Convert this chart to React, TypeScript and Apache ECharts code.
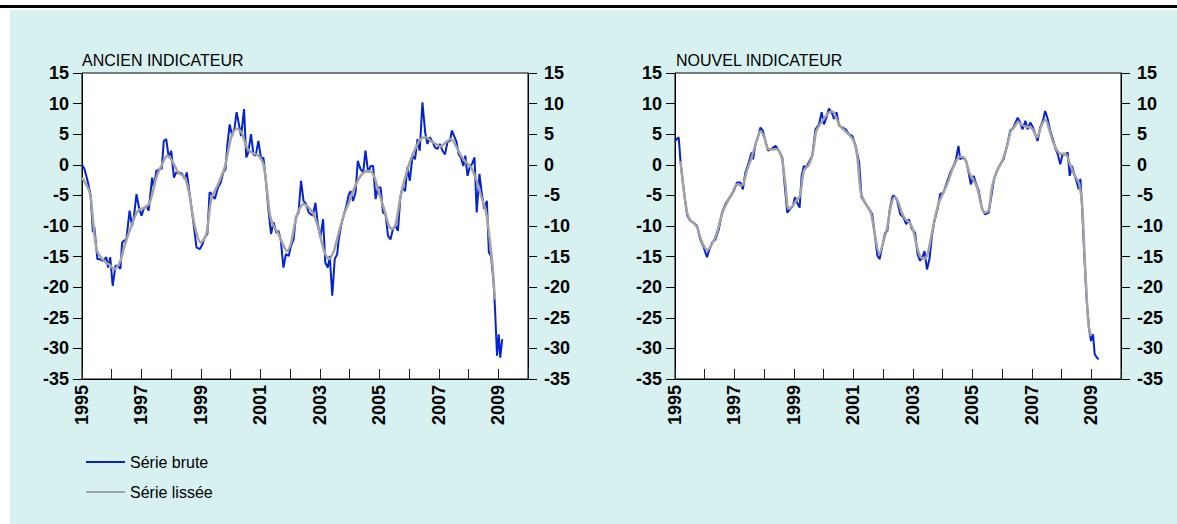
import React, { useEffect, useRef } from 'react';
import * as echarts from 'echarts';

// x = months since January 1995, y = indicator value
const ancienBrute: [number, number][] = [
  [0,0],[1,-0.7],[2.4,-2.9],[3.5,-5],[4.4,-11],[5,-10.2],[6.2,-15.4],[7,-15.4],[8.5,-15.7],[9.8,-15.1],[10.5,-16.8],[11.4,-15.1],[12.4,-19.8],[13.5,-16.5],[14.5,-16.5],[15.5,-17],[16.2,-12.7],[17,-12.4],[17.9,-12.2],[19.2,-7.5],[20.2,-10],[21,-8.3],[22,-4.8],[23,-7],[24,-8.3],[24.9,-7.2],[26,-6.7],[26.9,-7.5],[28.3,-2.1],[29,-3.7],[30,-1],[31.4,-0.7],[32.2,-0.6],[33,3.9],[34,4.2],[35,1.2],[36,2.3],[37.1,-2.1],[38,-1.25],[39.4,-1.3],[40.4,-1.5],[41.5,-2.3],[42.3,-1.25],[43,-3.4],[44.8,-8.9],[46.2,-13.5],[47.5,-13.8],[48.6,-13],[49.5,-11.9],[50.6,-11.3],[51.5,-4.5],[52.5,-4.8],[53.6,-5.6],[54.9,-3.7],[56,-2.9],[57,-1.25],[57.9,-0.7],[58.7,3.4],[59.6,6.6],[60.6,4.7],[61.6,6.1],[62.4,8.6],[63.2,6.9],[64.2,4.7],[65.4,9.1],[66.3,1.2],[67.1,2],[68.2,5],[69.2,1.7],[70.1,1.5],[71.2,3.9],[72.3,0.9],[73.2,1.2],[74.3,-2.9],[75.2,-7.2],[76.3,-11.3],[77.3,-9.4],[78.4,-11.1],[79.3,-10.8],[80.2,-12.2],[81.3,-16.8],[82.3,-14.6],[83.4,-14.9],[84.4,-13.2],[85.4,-12.2],[86.3,-8.6],[87.4,-7.8],[88.4,-2.6],[89.4,-5.9],[90.4,-6.4],[91.5,-7.8],[92.4,-8.1],[93.2,-8.3],[94.2,-6.2],[95.1,-9.4],[96.2,-11.9],[97.3,-8.9],[98.2,-16],[99.2,-16.8],[100,-14.9],[101,-21.4],[102,-15.4],[103,-14.6],[103.6,-12.2],[104.7,-9.7],[105.6,-8.3],[106.7,-6.7],[107.7,-4.8],[108.5,-4.3],[109.4,-5.9],[110.4,-4.5],[111.3,0.65],[112.4,-0.7],[113.5,-1.25],[114.4,2.3],[115.5,-1.25],[116.5,-0.2],[117.5,-0.2],[118.5,-5.6],[119.4,-3.7],[120.5,-3.7],[121.5,-7.8],[122.5,-8.1],[123.5,-11.6],[124.5,-12.2],[125.5,-10.5],[126.6,-10],[127.5,-10.8],[128.5,-5.3],[129.3,-3.7],[130.4,-4.3],[131.3,-0.4],[132.3,-2.6],[133.4,1.5],[134.4,0.9],[135.4,4.2],[136.3,2.3],[137.4,10.2],[138.5,5.3],[139.4,3.4],[140.4,4.5],[141.5,3.7],[142.5,2.8],[143.5,2.6],[144.4,3.4],[145.5,2.3],[146.5,1.7],[147.5,3.7],[148.5,3.9],[149.3,5.6],[150.2,4.7],[151.2,3.7],[152,1.7],[152.9,1.2],[153.9,-0.2],[154.7,1.5],[155.6,-1.8],[156.6,-0.2],[157.4,0.1],[158.4,1.2],[159.3,-7.8],[160.4,-1.5],[161.3,-4.5],[162.3,-7.2],[163.4,-5.9],[164.2,-14.3],[165.1,-14.9],[166.1,-19.2],[166.7,-23.6],[167.5,-31.2],[168.2,-27.7],[168.8,-31.5],[169.6,-28.5]
];

const ancienLisse: [number, number][] = [
  [0,-2.1],[3.1,-4.5],[4.4,-8.9],[5.9,-13.9],[8,-15.3],[9.8,-16],[11.3,-16.4],[12.9,-17.1],[15.2,-16],[17.2,-13.2],[19.9,-10],[22.6,-7.5],[25.3,-7],[27.3,-6.2],[30,-2.1],[32,-0.2],[34.5,1.5],[36.7,0.4],[38.8,-1.25],[41.5,-2.1],[43.4,-5],[45.5,-10],[47.9,-12.7],[50.2,-11.3],[52.2,-5.6],[54.9,-3.2],[57.6,-0.4],[60.3,4.6],[62.4,5.9],[64.4,5.3],[66.5,2.8],[68.5,2],[71.2,1.5],[73.2,0.1],[74.6,-4],[75.9,-8.3],[77.3,-10],[79.3,-11.3],[81.3,-13.2],[82.7,-14.1],[84.4,-12.7],[86,-9.4],[87.4,-7.5],[89.4,-6.4],[91.5,-7],[93.5,-8.1],[95.5,-10.5],[97.5,-13.8],[99.6,-15.4],[101.6,-14.1],[103.6,-11.1],[105.6,-8.3],[107.7,-6.2],[109.7,-4],[111.7,-2.3],[113.7,-1.25],[115.8,-1],[117.8,-1.8],[119.8,-4.5],[121.9,-7.2],[123.9,-10],[125.2,-10.5],[126.6,-9.7],[128.6,-5.1],[130.6,-1.8],[132.7,0.9],[134.7,2.8],[136.7,4.2],[138.8,4.5],[140.8,3.9],[142.8,3.4],[144.8,3],[146.9,3.7],[148.9,4.2],[150.9,3.1],[152.9,1.5],[155,0.4],[157,-0.4],[159,-2.3],[161.1,-5.1],[163.1,-7.8],[164.7,-12.7],[165.8,-17],[166.6,-22]
];

const nouvelBrute: [number, number][] = [
  [0,3.9],[1.5,4.5],[2.2,0.65],[3.5,-4],[4.9,-8.3],[6.2,-9.2],[7.5,-9.4],[8.9,-10],[10.2,-12.2],[11.6,-13.5],[12.9,-15.1],[13.9,-13.8],[15,-12.7],[16.3,-12.2],[17.7,-10.5],[19,-7.8],[20.4,-6.4],[22.4,-5.1],[23.7,-4.3],[25,-2.9],[26.4,-2.9],[27.4,-4],[28.4,-1.25],[29.8,0.4],[30.9,2],[31.5,0.9],[32.5,3.4],[33.6,4.7],[34.5,6.1],[35.4,5.6],[36.5,3.9],[37.6,2.3],[39,2.6],[40.6,3.1],[41.9,2.3],[43.3,1.2],[44.3,-3.4],[45.3,-7.8],[46.6,-7.2],[47.6,-6.7],[48.4,-5.3],[49.3,-6.2],[50.3,-7],[51.1,-1.8],[52,-0.2],[53,-0.4],[54,0.4],[55.4,1.5],[56.7,5.8],[58.1,6.6],[59.2,8.6],[60.1,6.6],[61.1,7.7],[62.1,9.2],[63.2,8.6],[64.2,7.5],[65.2,8.6],[66.2,6.4],[67.5,6.1],[68.9,5.8],[70.2,5],[71.6,4.7],[72.9,3.1],[74.3,0.4],[75.3,-5.3],[76.7,-6.2],[78.3,-7.2],[79.6,-8.1],[80.7,-11.6],[81.7,-14.9],[82.6,-15.4],[83.7,-13.2],[84.8,-11.1],[85.7,-10.8],[86.7,-7.2],[87.7,-5.3],[88.2,-5],[89.5,-5.6],[90.9,-8.1],[92.2,-8.6],[93.3,-9.7],[94.4,-8.9],[95.6,-10.5],[96.9,-11.1],[97.9,-14.6],[98.9,-15.7],[100,-14.9],[100.7,-14.1],[101.7,-17.1],[102.7,-15.4],[103.7,-11.6],[104.7,-9.2],[106,-7.2],[107,-4.8],[108.4,-4.5],[109.7,-2.9],[111.1,-1.25],[112.4,-0.2],[113.4,0.9],[114.4,3.1],[115.1,0.9],[116.2,1.2],[117.5,0.65],[118.5,-1.25],[119.4,-3.2],[120.5,-1.8],[121.6,-3.2],[122.6,-4.3],[123.9,-7.2],[125.2,-8.1],[126.6,-7.8],[127.6,-5.3],[128.8,-2.3],[129.9,-1],[131.3,0.1],[132.6,0.9],[134,3.1],[135.3,5.6],[136.6,6.1],[138.3,7.7],[139.3,6.9],[140.3,5.8],[141.4,7.2],[142.3,5.8],[143.4,6.9],[144.5,6.1],[145.4,5],[146.3,3.9],[147.4,6.1],[148.5,7.2],[149.4,8.8],[150.4,7.5],[151.4,5.6],[152.5,4.2],[153.6,2.6],[154.5,1.7],[155.5,0.1],[156.4,1.7],[157.5,1.7],[158.5,2],[159.3,-1.8],[160.2,-0.2],[161.1,-1.5],[162.2,-2.9],[162.9,-4],[163.6,-2.3],[164.2,-6.2],[165.2,-14.9],[166.2,-22.5],[167.2,-27.1],[167.9,-28.8],[168.7,-27.7],[169.4,-31],[170.3,-31.5],[171,-31.8]
];

const nouvelLisse: [number, number][] = [
  [2.2,0.6],[3.5,-4],[5,-8],[6.5,-9.2],[8,-9.7],[9,-10.3],[10.5,-12.2],[12,-13.5],[13,-13.9],[15,-12.9],[17,-11],[19,-8],[21,-6.2],[23,-4.8],[25,-3.2],[27,-3.4],[29,-1],[31,1.3],[33,4],[34.5,5.5],[36,4.5],[37.5,2.6],[39,2.5],[41,2.6],[43,1.3],[44.5,-3],[45.8,-7.2],[47,-6.9],[49,-5.8],[50.5,-5],[52,-1],[54,0],[55.5,1.7],[57,5.5],[58.5,6.6],[60,7.5],[62,8.5],[63.5,8.7],[65,7.7],[66.5,6.4],[68,5.8],[70,5],[72,4],[73.5,1.5],[75,-4.5],[77,-6.4],[79,-7.8],[80.5,-11],[82.5,-14.6],[84,-12.7],[85.5,-10.5],[87,-7],[88.5,-5.3],[90,-6],[91.5,-7.8],[93,-8.9],[94.5,-9.4],[96,-10.5],[97.5,-13.2],[99,-15],[100.5,-15.4],[102,-14.5],[103.5,-11.5],[105,-8.5],[106.5,-6.2],[108,-4.8],[110,-3],[112,-0.7],[114,1],[115.5,1.3],[117,1],[119,-1.5],[120.5,-2.5],[122,-3.8],[123.5,-6.5],[125,-7.8],[126.5,-7.5],[128,-3.5],[130,-1],[132,0.6],[134,3],[135.5,5.5],[137,6.2],[138.5,7],[140,6.5],[142,6.2],[144,6],[146,4.5],[148,6.5],[149.5,7.3],[151,5.8],[152.5,3.8],[154,2.5],[155.5,1.8],[157.5,1.8],[159.5,0],[161,-1.5],[163,-3],[164.3,-6.5],[165.2,-14],[166.2,-22],[167,-26.5],[168,-28]
];

const yearLabels = ['1995', '1997', '1999', '2001', '2003', '2005', '2007', '2009'];
const panelTitles = ['ANCIEN INDICATEUR', 'NOUVEL INDICATEUR'];
const seriesNames = ['Série brute', 'Série lissée'];

const FONT = '"Liberation Sans", Arial, sans-serif';
const BLUE = '#0323d2';
const GRAY = '#a3a3a3';

function xAxis(gridIndex: number) {
  return {
    type: 'value', gridIndex, position: 'bottom', min: 0, max: 180, interval: 12,
    axisLine: { show: true, onZero: false, lineStyle: { color: '#000', width: 1 } },
    axisTick: { show: true, inside: true, length: 10, lineStyle: { color: '#222' } },
    axisLabel: {
      rotate: 90, margin: 6, fontSize: 18, fontWeight: 'bold', color: '#000', fontFamily: FONT,
      formatter: (v: number) => {
        const y = String(Math.round(1995 + v / 12));
        return yearLabels.includes(y) ? y : '';
      },
    },
    splitLine: { show: false },
  };
}

function yAxis(gridIndex: number, position: 'left' | 'right') {
  return {
    type: 'value', gridIndex, position, min: -35, max: 15, interval: 5,
    axisLine: { show: true, onZero: false, lineStyle: { color: '#000', width: 1 } },
    axisTick: { show: true, inside: false, length: 9, lineStyle: { color: '#000' } },
    axisLabel: { margin: position === 'left' ? 13 : 16, fontSize: 18, fontWeight: 'bold', color: '#000', fontFamily: FONT },
    splitLine: { show: false },
  };
}

export default function App() {
  const ref = useRef<HTMLDivElement>(null);
  useEffect(() => {
    const chart = echarts.init(ref.current!, null, { renderer: 'svg' });
    const line = (name: string, data: [number, number][], xi: number, yi: number, color: string, width: number) => ({
      type: 'line', name, data, xAxisIndex: xi, yAxisIndex: yi, showSymbol: false, symbol: 'none',
      lineStyle: { color, width }, itemStyle: { color }, smooth: name === seriesNames[1] ? 0.3 : false,
      clip: true,
    });
    chart.setOption({
      animation: false,
      textStyle: { fontFamily: FONT },
      title: [
        { text: panelTitles[0], left: 82, top: 52, padding: 0, textStyle: { fontSize: 16, fontWeight: 'normal', color: '#000', fontFamily: FONT } },
        { text: panelTitles[1], left: 676, top: 52, padding: 0, textStyle: { fontSize: 16, fontWeight: 'normal', color: '#000', fontFamily: FONT } },
      ],
      legend: {
        orient: 'vertical', left: 81, top: 449, itemWidth: 39, itemHeight: 2, itemGap: 14, icon: 'rect',
        data: seriesNames, textStyle: { fontSize: 16, color: '#000', fontFamily: FONT },
      },
      grid: [
        { left: 82, top: 73, width: 446, height: 306, show: true, backgroundColor: '#fff', borderColor: '#000', borderWidth: 1 },
        { left: 675, top: 73, width: 446, height: 306, show: true, backgroundColor: '#fff', borderColor: '#000', borderWidth: 1 },
      ],
      xAxis: [xAxis(0), xAxis(1)],
      yAxis: [yAxis(0, 'left'), yAxis(0, 'right'), yAxis(1, 'left'), yAxis(1, 'right')],
      series: [
        line(seriesNames[0], ancienBrute, 0, 0, BLUE, 2),
        line(seriesNames[1], ancienLisse, 0, 0, GRAY, 2.5),
        line(seriesNames[0], nouvelBrute, 1, 2, BLUE, 2),
        line(seriesNames[1], nouvelLisse, 1, 2, GRAY, 2.5),
      ],
    });
    return () => chart.dispose();
  }, []);
  return (
    <div style={{ position: 'absolute', left: 0, top: 0, width: 1177, height: 524, background: '#fff' }}>
      <div style={{ position: 'absolute', left: 0, top: 5, width: 1177, height: 3, background: '#000' }} />
      <div style={{ position: 'absolute', left: 10, top: 10, width: 1167, height: 514, background: '#d7f0f0' }} />
      <div ref={ref} style={{ position: 'absolute', left: 0, top: 0, width: 1177, height: 524 }} />
    </div>
  );
}
